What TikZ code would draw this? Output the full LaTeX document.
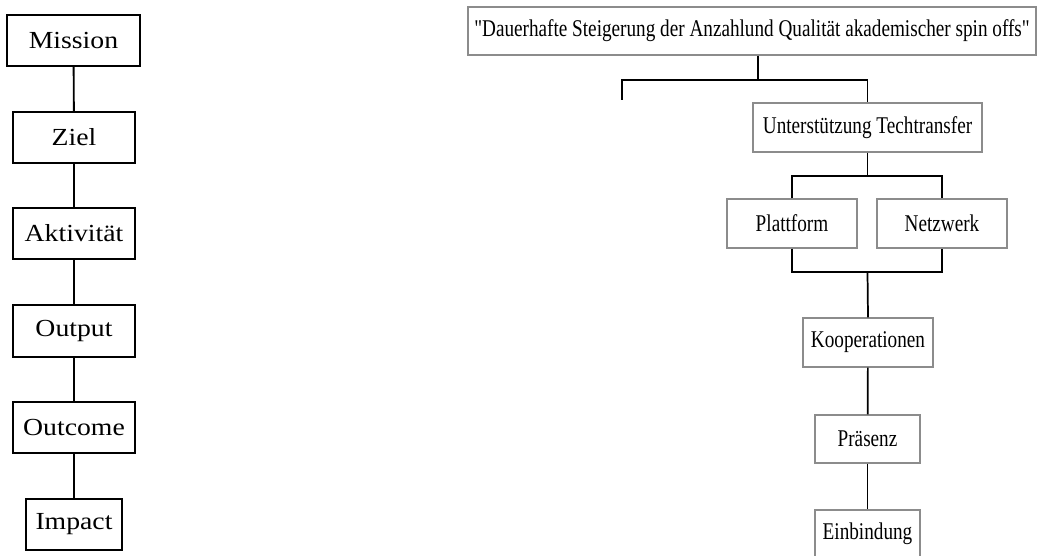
\documentclass[tikz,border=0pt]{standalone}
\usepackage{fontspec}
\setmainfont{Liberation Serif}[Ligatures=TeXOff]
\usepackage{graphicx}
\definecolor{boxgray}{RGB}{140,140,140}
\newcommand\ltxt[1]{\scalebox{1.13}[1]{\fontsize{18.4}{20}\selectfont #1}}
\newcommand\rtxt[1]{\scalebox{0.8}[1]{\fontsize{18}{20}\selectfont #1}}
\begin{document}
\begin{tikzpicture}[x=0.75pt,y=-0.75pt,
  lbox/.style={draw=black,line width=1.5pt,inner sep=0pt,minimum width=122*0.75pt,minimum height=51*0.75pt},
  rbox/.style={draw=boxgray,line width=1.1pt,inner sep=0pt,minimum height=49*0.75pt},
  lconn/.style={draw=black,line width=1.4pt},
  rconn/.style={draw=black,line width=1.3pt}]
\useasboundingbox[fill=white] (0,0) rectangle (1038,556);
% left column
\node[lbox,minimum width=133*0.75pt] (mi) at (73.5,40.5) {\ltxt{Mission}};
\node[lbox] (zi) at (74,137.5) {\ltxt{Ziel}};
\node[lbox] (ak) at (74,233.5) {\ltxt{Aktivität}};
\node[lbox,minimum height=52*0.75pt] (ou) at (74,331) {\ltxt{Output}};
\node[lbox] (oc) at (74,427.5) {\ltxt{Outcome}};
\node[lbox,minimum width=96*0.75pt] (im) at (74,524.5) {\ltxt{Impact}};
\draw[lconn] (mi) -- (zi);
\draw[lconn] (zi) -- (ak);
\draw[lconn] (ak) -- (ou);
\draw[lconn] (ou) -- (oc);
\draw[lconn] (oc) -- (im);
% right column
\node[rbox,minimum width=568*0.75pt,minimum height=48*0.75pt] (top) at (752,31)
  {\rtxt{"Dauerhafte Steigerung der Anzahlund Qualität akademischer spin offs"}};
\node[rbox,minimum width=229*0.75pt] (ut) at (867.5,127.5) {\rtxt{Unterstützung Techtransfer}};
\node[rbox,minimum width=130*0.75pt] (pl) at (792,223.5) {\rtxt{Plattform}};
\node[rbox,minimum width=130*0.75pt] (nw) at (942,223.5) {\rtxt{Netzwerk}};
\node[rbox,minimum width=130*0.75pt] (ko) at (868,342.5) {\rtxt{Kooperationen}};
\node[rbox,minimum width=105*0.75pt,minimum height=48*0.75pt] (pr) at (867.5,439) {\rtxt{Präsenz}};
\node[rbox,minimum width=105*0.75pt,minimum height=48*0.75pt] (ei) at (867.5,534) {\rtxt{Einbindung}};
\coordinate (j1) at (758,80);
\coordinate (lt) at (622,100);
\coordinate (j2) at (867.5,176);
\coordinate (j3) at (867.5,272);
\draw[rconn] (top.south -| j1) -- (j1);
\draw[rconn] (lt) |- (j1) -| (ut.north);
\draw[rconn] (ut.south) -- (j2);
\draw[rconn] (pl.north) |- (j2) -| (nw.north);
\draw[rconn] (pl.south) |- (j3) -| (nw.south);
\draw[rconn] (j3) -- (ko.north);
\draw[rconn] (ko) -- (pr);
\draw[rconn] (pr) -- (ei);
\end{tikzpicture}
\end{document}
